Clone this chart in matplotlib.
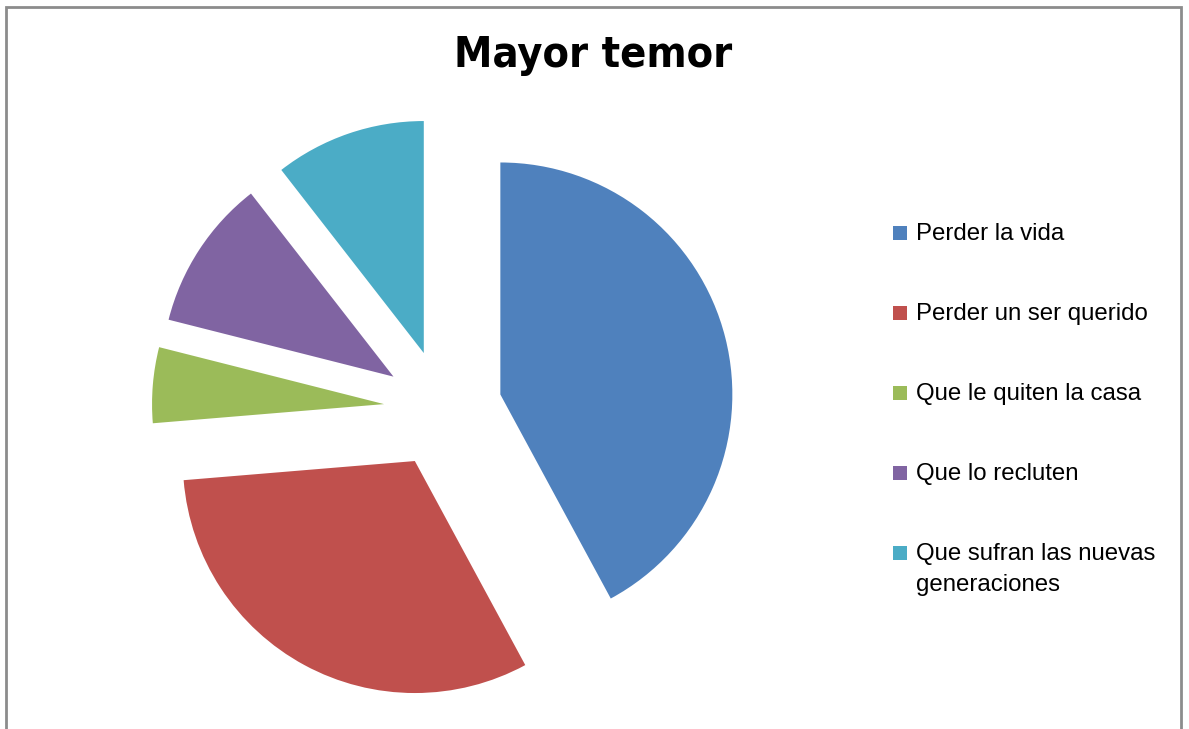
import matplotlib.pyplot as plt
from matplotlib.patches import Rectangle

# data
labels = ["Perder la vida", "Perder un ser querido", "Que le quiten la casa",
          "Que lo recluten", "Que sufran las nuevas\ngeneraciones"]
values = [8, 6, 1, 2, 2]
colors = ["#4F81BD", "#C0504D", "#9BBB59", "#8064A2", "#4BACC6"]

W, H = 1189, 729
fig = plt.figure(figsize=(W / 100, H / 100), dpi=100)
ax = fig.add_axes([0, 0, 1, 1])

# pie centre / radius in pixels
cx, cy, r = 443, 409, 232
wedges, _ = ax.pie(values, colors=colors, startangle=90, counterclock=False,
                   explode=[0.255] * len(values), radius=1,
                   wedgeprops=dict(linewidth=0))
ax.set_aspect('auto')
ax.set_xlim(-cx / r, (W - cx) / r)
ax.set_ylim(-(H - cy) / r, cy / r)
ax.axis('off')

fig.text(593 / W, 1 - 55 / H, "Mayor temor", ha='center', va='center',
         fontsize=31, fontweight='bold', family='DejaVu Sans',
         fontstretch='condensed')

# legend drawn by hand so the square sits on the first line
y0, step = 233, 80
for i, (lab, col) in enumerate(zip(labels, colors)):
    y = y0 + i * step
    fig.add_artist(Rectangle((893 / W, 1 - (y + 7) / H), 14 / W, 14 / H,
                             transform=fig.transFigure, color=col, lw=0))
    fig.text(916 / W, 1 - (y - 10) / H, lab, ha='left', va='top',
             fontsize=17.3, family='Liberation Sans', linespacing=1.5)

# grey frame
fig.add_artist(Rectangle((6 / W, -0.2), 1175 / W, 1.2 - 7 / H,
                         transform=fig.transFigure, fill=False,
                         edgecolor='#8c8c8c', lw=2))

fig.savefig("out.png", dpi=100)
